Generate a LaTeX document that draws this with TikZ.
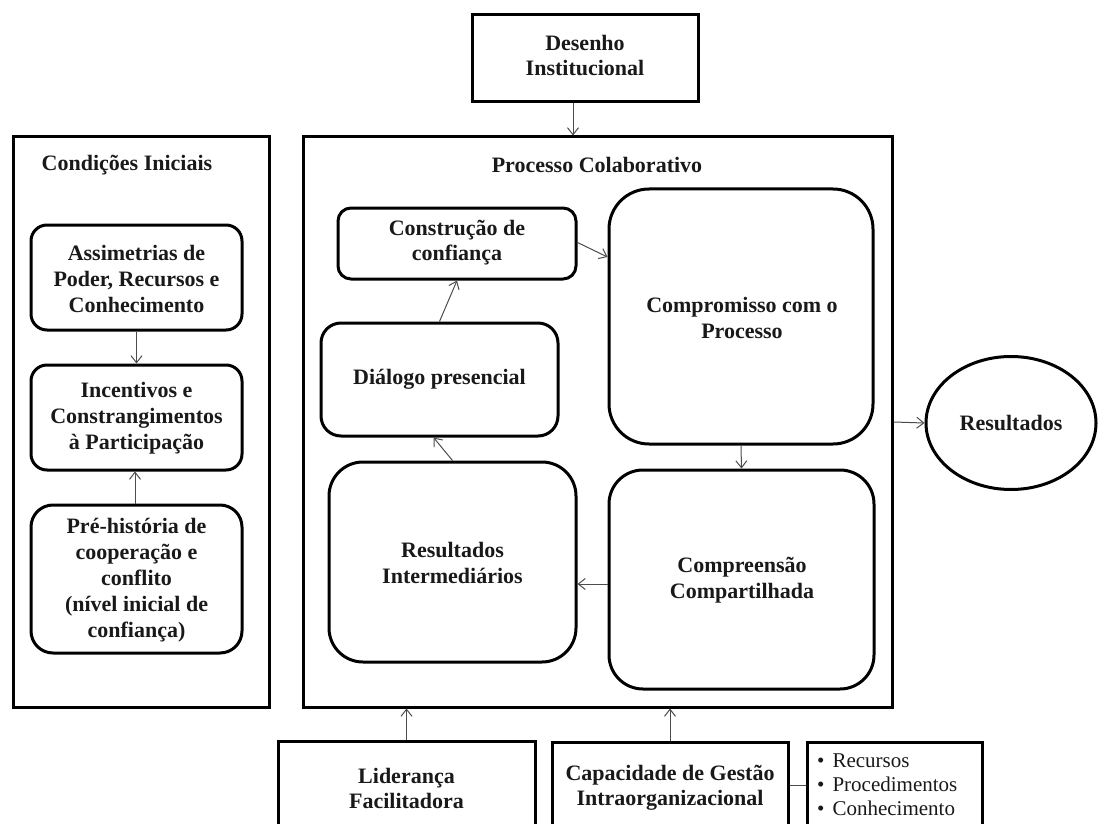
\documentclass[tikz,border=0pt]{standalone}
\usepackage{fontspec}
\setmainfont{Liberation Serif}
\usetikzlibrary{arrows.meta,shapes.geometric,calc}
\begin{document}
\begin{tikzpicture}[x=1pt,y=-1pt,
  box/.style={draw, line width=3pt, rectangle, inner sep=0pt},
  rbox/.style={box, rounded corners=#1},
  rbox/.default=15pt,
  lbl/.style={font=\bfseries\fontsize{22}{26}\selectfont, align=center, inner sep=0pt, text=black!90},
  arr/.style={draw=black!70, line width=1pt, -{Straight Barb[length=7pt,width=11pt]}},
  ln/.style={draw=black!70, line width=1pt}]
\useasboundingbox (0,0) rectangle (1101,824);
\clip (0,0) rectangle (1101,824);

% outer boxes
\node (des) [box, minimum width=226pt, minimum height=87pt] at (585,58.5) {};
\node (dest) [lbl, font=\bfseries\fontsize{22}{25}\selectfont] at (585,56) {Desenho\\Institucional};

\node (cond) [box, minimum width=256pt, minimum height=570pt] at (141,422) {};
\node (condt) [lbl] at (127,165) {Condições Iniciais};

\node (proc) [box, minimum width=589pt, minimum height=570pt] at (597.5,422) {};
\node (proct) [lbl] at (597,165) {Processo Colaborativo};

% left column
\node (assim) [rbox=16pt, minimum width=211pt, minimum height=105pt] at (136.5,277.5) {};
\node (assimt) [lbl] at (136.5,279) {Assimetrias de\\Poder, Recursos e\\Conhecimento};
\node (incent) [rbox=16pt, minimum width=211pt, minimum height=105pt] at (136.5,417.5) {};
\node (incentt) [lbl] at (136.5,418) {Incentivos e\\Constrangimentos\\à Participação};
\node (pre) [rbox=22pt, minimum width=211pt, minimum height=148pt] at (136.5,579) {};
\node (pret) [lbl] at (136.5,580) {Pré-história de\\cooperação e\\conflito\\(nível inicial de\\confiança)};

% collaborative process
\node (const) [rbox=13pt, minimum width=238pt, minimum height=71pt] at (457,243.5) {};
\node (constt) [lbl, font=\bfseries\fontsize{22}{25}\selectfont] at (457,243) {Construção de\\confiança};
\node (dial) [rbox=20pt, minimum width=237pt, minimum height=113pt] at (439.5,379.5) {};
\node (dialt) [lbl] at (439.5,379) {Diálogo presencial};
\node (resint) [rbox=34pt, minimum width=247pt, minimum height=200pt] at (452.5,562) {};
\node (resintt) [lbl] at (452.5,563) {Resultados\\Intermediários};
\node (comp) [rbox=40pt, minimum width=264pt, minimum height=255pt] at (741,316.5) {};
\node (compt) [lbl] at (742,318) {Compromisso com o\\Processo};
\node (compr) [rbox=34pt, minimum width=265pt, minimum height=219pt] at (741.5,579.5) {};
\node (comprt) [lbl] at (742,580) {Compreensão\\Compartilhada};

% results
\node (res) [draw, line width=3pt, ellipse, minimum width=170pt, minimum height=133pt, inner sep=0pt] at (1011,423) {};
\node (rest) [lbl] at (1011,423) {Resultados};

% bottom boxes
\node (lid) [box, minimum width=257pt, minimum height=160pt] at (406.5,821) {};
\node (lidt) [lbl, font=\bfseries\fontsize{22}{25}\selectfont] at (406.5,788) {Liderança\\Facilitadora};
\node (cap) [box, minimum width=236pt, minimum height=160pt] at (670,822) {};
\node (capt) [lbl, font=\bfseries\fontsize{22}{25}\selectfont] at (670,788) {Capacidade de Gestão\\Intraorganizacional};
\node (bul) [box, minimum width=175pt, minimum height=160pt] at (894.5,822) {};
\node (bult) [font=\fontsize{21}{24}\selectfont, align=left, inner sep=0pt, anchor=west, text=black!90] at (817,785)
  {\textbullet\hspace{8pt}Recursos\\\textbullet\hspace{8pt}Procedimentos\\\textbullet\hspace{8pt}Conhecimento};

% connectors
\draw[arr] ([xshift=-12pt]des.south) -- ([xshift=-12pt]des.south |- proc.north);
\draw[arr] (assim.south) -- (incent.north);
\draw[arr] ([xshift=-1.5pt]pre.north) -- ([xshift=-1.5pt]incent.south);
\draw[arr] (dial.north) -- (const.south);
\draw[arr] (resint.north) -- ([xshift=-6pt]dial.south);
\draw[arr] ([yshift=1pt]const.east) -- ($(comp.west)+(0,-59.5)$);
\draw[arr] (comp.south) -- (compr.north);
\draw[arr] ([yshift=-4.5pt]compr.west) -- ([yshift=-4.5pt]compr.west -| resint.east);
\draw[arr] (proc.east) -- (res.west);
\draw[arr] (lid.north) -- (lid.north |- proc.south);
\draw[arr] (cap.north) -- (cap.north |- proc.south);
\draw[ln] ([yshift=37pt]cap.east) -- ([yshift=37pt]cap.east -| bul.west);
\end{tikzpicture}
\end{document}
